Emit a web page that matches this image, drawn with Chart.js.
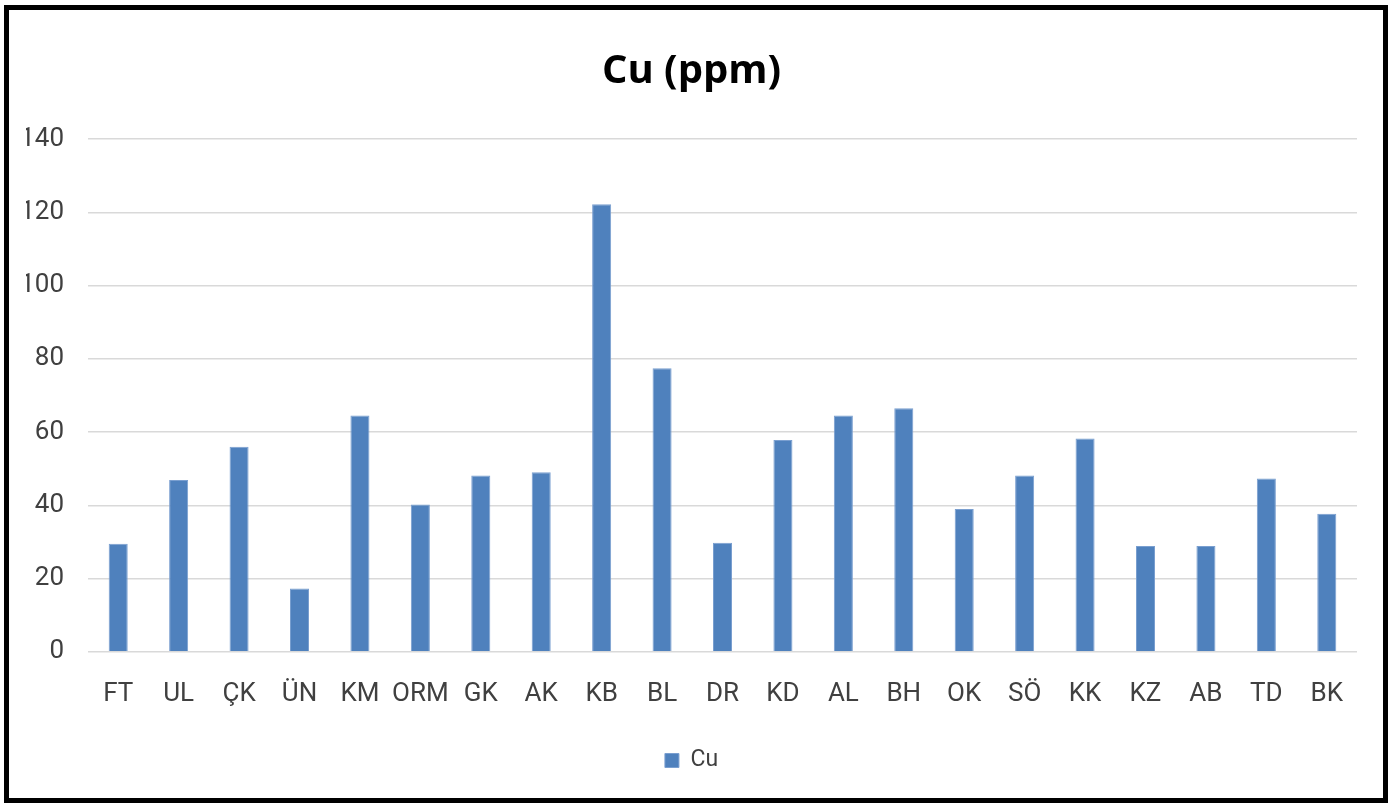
<!DOCTYPE html>
<html lang="tr">
<head>
<meta charset="UTF-8">
<title>Cu (ppm)</title>
<script src="https://cdn.jsdelivr.net/npm/chart.js"></script>
<style>
  html, body { margin: 0; padding: 0; background: #fff; }
  #wrap { width: 1400px; height: 806px; }
</style>
</head>
<body>
<div id="wrap"><canvas id="cuChart" width="1400" height="806"></canvas></div>
<script>
// data
const stations = ['FT', 'UL', 'ÇK', 'ÜN', 'KM', 'ORM', 'GK', 'AK', 'KB', 'BL', 'DR',
                  'KD', 'AL', 'BH', 'OK', 'SÖ', 'KK', 'KZ', 'AB', 'TD', 'BK'];
const cuValues = [29.5, 46.9, 56.0, 17.3, 64.5, 40.2, 48.1, 49.0, 122.2, 77.4, 29.8,
                  57.8, 64.5, 66.5, 39.0, 48.1, 58.2, 28.9, 28.9, 47.3, 37.7];
const yTicks = [0, 20, 40, 60, 80, 100, 120, 140];

const textFont = '"Liberation Sans Narrow", Roboto, sans-serif';

// black frame round the whole chart
const framePlugin = {
  id: 'frame',
  beforeDraw(chart) {
    const ctx = chart.ctx;
    ctx.save();
    ctx.fillStyle = '#fff';
    ctx.fillRect(0, 0, chart.width, chart.height);
    ctx.strokeStyle = '#000';
    ctx.lineWidth = 5;
    ctx.strokeRect(6.5, 7.5, 1379, 793);
    ctx.restore();
  }
};

new Chart(document.getElementById('cuChart'), {
  type: 'bar',
  data: {
    labels: stations,
    datasets: [{
      label: 'Cu',
      data: cuValues,
      backgroundColor: '#4F81BD',
      borderColor: '#7A9FD0',
      borderWidth: 1,
      barPercentage: 0.315,
      categoryPercentage: 1
    }]
  },
  options: {
    responsive: false,
    animation: false,
    layout: { padding: { left: 26, right: 43, top: 10, bottom: 24 } },
    plugins: {
      title: {
        display: true,
        text: 'Cu (ppm)',
        color: '#000',
        font: { family: '"Open Sans", sans-serif', size: 40, weight: 'bold' },
        padding: { top: 38, bottom: 43 }
      },
      legend: {
        position: 'bottom',
        labels: {
          color: '#404040',
          font: { family: textFont, size: 23 },
          boxWidth: 14,
          boxHeight: 14,
          padding: 20
        }
      },
      tooltip: { enabled: false }
    },
    scales: {
      x: {
        grid: { display: false },
        border: { display: false },
        ticks: {
          color: '#404040',
          font: { family: textFont, size: 26 },
          padding: 19,
          maxRotation: 0,
          autoSkip: false
        }
      },
      y: {
        min: 0,
        max: 140,
        afterBuildTicks(scale) {
          scale.ticks = yTicks.map(v => ({ value: v }));
        },
        afterFit(scale) {
          scale.width = 62;
        },
        grid: { color: '#D9D9D9', lineWidth: 1.5, drawTicks: false },
        border: { display: false },
        ticks: {
          color: '#404040',
          font: { family: textFont, size: 26 },
          padding: 24
        }
      }
    }
  },
  plugins: [framePlugin]
});
</script>
</body>
</html>
